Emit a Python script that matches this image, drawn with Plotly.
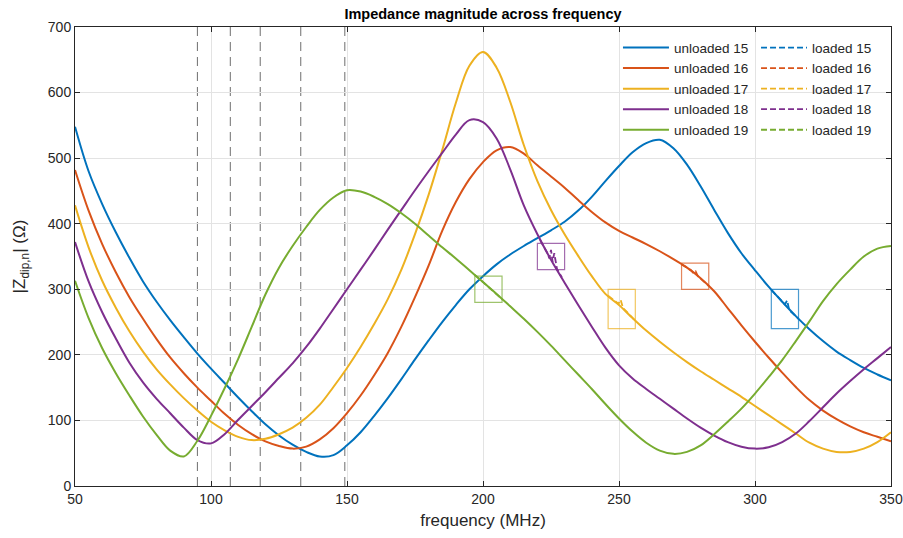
import plotly.graph_objects as go

# ---------------- data ----------------
freq = [50,55,60,65,70,75,80,85,90,95,100,105,110,115,120,125,130,135,140,145,
        150,155,160,165,170,175,180,185,190,195,200,205,210,215,220,225,230,235,240,245,
        250,255,260,265,270,275,280,285,290,295,300,305,310,315,320,325,330,335,340,345,350]

z15 = [548,480,430,387,348,312,281,253,227,202,179,157,135,114,94,77,63,52,45,47,
       62,82,107,134,163,193,222,250,276,300,320,338,353,366,378,390,403,420,441,465,
       488,509,523,528,515,490,457,421,386,355,329,304,281,259,239,221,205,192,180,170,161]

z16 = [482,420,369,326,288,255,224,196,172,150,130,110,93,79,68,61,57,60,71,88,
       111,138,169,203,243,288,336,389,433,468,494,512,517,507,489,472,455,436,418,402,
       389,379,369,358,346,333,317,297,271,245,220,196,173,151,131,115,102,91,82,75,68]

z17 = [428,364,313,272,236,205,178,155,134,115,98,85,75,70,72,79,89,104,124,151,
       180,212,247,285,330,384,444,512,584,641,662,638,586,520,465,421,384,351,320,293,
       276,256,237,220,204,189,175,162,149,136,122,108,94,80,66,57,52,52,57,67,82]

z18 = [372,312,265,225,188,158,133,111,89,70,65,79,101,122,143,165,187,212,240,270,
       300,330,360,391,421,451,480,508,536,558,555,530,483,428,384,345,310,276,243,211,
       184,164,148,133,118,103,89,77,67,60,57,59,67,80,99,120,141,160,178,195,212]

z19 = [313,256,210,172,138,106,78,54,45,69,107,149,194,243,292,333,366,395,421,440,
       451,449,441,430,416,400,382,364,347,329,311,293,274,255,235,214,192,170,148,125,
       103,83,66,54,49,52,62,79,98,118,141,166,192,221,251,282,308,330,350,362,366]

# loaded measurements (differ from unloaded only inside the marked boxes)
lf15 = [306,308,310,311,311.8,312.6,314,316]
lz15 = [299,290,281,277,283,268,263,255]
lf16 = [273,275,276.5,277.5,278.2,279,281,283]
lz16 = [338,333,329,324,327,320,313,305]
lf17 = [246,248,249.8,250.6,251.5,253,256]
lz17 = [290,283,278,284,271,265,252]
lf18 = [221,222.5,223.7,224.4,225,225.6,226.2,227.2,229]
lz18 = [375,364,355,347,360,342,355,331,318]
lf19 = [197,200,203,207]
lz19 = [322,311,300,285]

labels = ["15", "16", "17", "18", "19"]
ref_freqs = [95.0, 107.1, 118.1, 133.0, 149.2]

box_f0 = [306, 273, 246, 220, 197]
box_f1 = [316, 283, 256, 230, 207]
box_z0 = [240, 300, 240, 330, 280]
box_z1 = [300, 340, 300, 370, 320]

# ---------------- styling ----------------
colors = ["#0072BD", "#D95319", "#EDB120", "#7E2F8E", "#77AC30"]
FONT = "Liberation Sans, Arial, Helvetica, sans-serif"
AX = "#262626"

unl = [z15, z16, z17, z18, z19]
lod = [(lf15, lz15), (lf16, lz16), (lf17, lz17), (lf18, lz18), (lf19, lz19)]

fig = go.Figure()
for fy, lab, c in zip(unl, labels, colors):
    fig.add_trace(go.Scatter(x=freq, y=fy, mode="lines", name="unloaded " + lab,
                             line=dict(color=c, width=2, shape="spline", smoothing=1.0),
                             legend="legend"))
for (fx, fy), lab, c in zip(lod, labels, colors):
    fig.add_trace(go.Scatter(x=fx, y=fy, mode="lines", name="loaded " + lab,
                             line=dict(color=c, width=1.8, dash="6px,3px"),
                             legend="legend2"))

for f in ref_freqs:
    fig.add_vline(x=f, line=dict(color="#6e6e6e", width=1, dash="9px,6px"), layer="below")

for x0, x1, y0, y1, c in zip(box_f0, box_f1, box_z0, box_z1, colors):
    fig.add_shape(type="rect", xref="x", yref="y", x0=x0, x1=x1, y0=y0, y1=y1,
                  line=dict(color=c, width=1.2), opacity=0.7, layer="above")

axis_common = dict(showgrid=True, gridcolor="#e3e3e3", gridwidth=1,
                   showline=True, linecolor=AX, linewidth=1, mirror="ticks",
                   ticks="inside", ticklen=5, tickcolor=AX, zeroline=False,
                   automargin=False,
                   tickfont=dict(family=FONT, size=14, color=AX))

fig.update_layout(
    width=903, height=538,
    margin=dict(l=75, r=12, t=27, b=52),
    paper_bgcolor="white", plot_bgcolor="white",
    font=dict(family=FONT, size=14, color=AX),
    title=dict(text="<b>Impedance magnitude across frequency</b>", x=0.5, xref="paper",
               xanchor="center", y=0.974, yanchor="middle",
               font=dict(family=FONT, size=14.5, color="#000000")),
    xaxis=dict(range=[50, 350], tickvals=[50, 100, 150, 200, 250, 300, 350],
               title=dict(text="frequency (MHz)", font=dict(family=FONT, size=17, color=AX), standoff=8),
               **axis_common),
    yaxis=dict(range=[0, 700], tickvals=[0, 100, 200, 300, 400, 500, 600, 700],
               title=dict(text="|Z<sub>dip,n</sub>| (Ω)", font=dict(family=FONT, size=17, color=AX), standoff=17),
               **axis_common),
    legend=dict(x=0.6654, y=0.9885, xanchor="left", yanchor="top", bgcolor="rgba(0,0,0,0)",
                font=dict(family=FONT, size=13.5, color=AX), itemwidth=46, tracegroupgap=0),
    legend2=dict(x=0.8346, y=0.9885, xanchor="left", yanchor="top", bgcolor="rgba(0,0,0,0)",
                 font=dict(family=FONT, size=13.5, color=AX), itemwidth=46, tracegroupgap=0),
)

fig.write_html("out.html")
